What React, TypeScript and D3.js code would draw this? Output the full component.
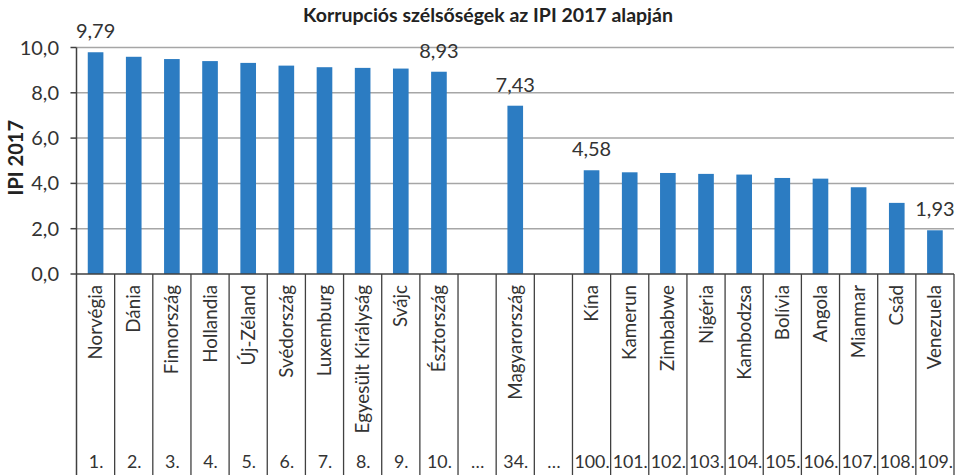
import React from "react";
import * as d3 from "d3";

const title = "Korrupciós szélsőségek az IPI 2017 alapján";
const yTitle = "IPI 2017";
const categories = [
  "Norvégia", "Dánia", "Finnország", "Hollandia", "Új-Zéland", "Svédország", "Luxemburg",
  "Egyesült Királyság", "Svájc", "Észtország", "", "Magyarország", "",
  "Kína", "Kamerun", "Zimbabwe", "Nigéria", "Kambodzsa", "Bolívia", "Angola", "Mianmar", "Csád", "Venezuela",
];
const ranks = [
  "1.", "2.", "3.", "4.", "5.", "6.", "7.", "8.", "9.", "10.", "…", "34.", "…",
  "100.", "101.", "102.", "103.", "104.", "105.", "106.", "107.", "108.", "109.",
];
const values: (number | null)[] = [
  9.79, 9.59, 9.49, 9.40, 9.32, 9.20, 9.13, 9.10, 9.07, 8.93, null, 7.43, null,
  4.58, 4.49, 4.46, 4.42, 4.39, 4.24, 4.21, 3.83, 3.14, 1.93,
];
const labeled = [0, 9, 11, 13, 22];
const yTicks = [0, 2, 4, 6, 8, 10];

const W = 960, H = 475;
const left = 76.5, right = 954, top = 47.5, bottom = 274;
const FONT = "Lato, 'Noto Sans', sans-serif";

export default function App() {
  const idx = categories.map((_, i) => i);
  const x = d3.scaleBand<number>().domain(idx).range([left, right]).padding(0);
  const y = d3.scaleLinear().domain([0, 10]).range([bottom, top]);
  const bw = x.bandwidth() * 0.41;
  const fmt = (v: number, d: number) => v.toFixed(d).replace(".", ",");
  return (
    <svg width={W} height={H} style={{ position: "fixed", left: 0, top: 0, background: "#fff" }} fontFamily={FONT}>
      <text x={488} y={22} textAnchor="middle" fontWeight="bold" fontSize={19.5} fill="#222">{title}</text>
      <text transform={`translate(23,${(top + bottom) / 2 - 3}) rotate(-90)`} textAnchor="middle" fontWeight="bold" fontSize={20} fill="#222">{yTitle}</text>
      {yTicks.map((t) => (
        <g key={t}>
          {t > 0 && <line x1={left} x2={right} y1={y(t)} y2={y(t)} stroke="#a6a6a6" strokeWidth={1.5} />}
          <line x1={left - 6} x2={left} y1={y(t)} y2={y(t)} stroke="#404040" strokeWidth={1.5} />
          <text x={59} y={y(t) + 7} textAnchor="end" fontSize={20} fill="#333">{fmt(t, 1)}</text>
        </g>
      ))}
      {values.map((v, i) =>
        v == null ? null : (
          <rect key={i} x={(x(i) as number) + (x.bandwidth() - bw) / 2} y={y(v)} width={bw} height={bottom - y(v)} fill="#2c7cc2" />
        )
      )}
      {labeled.map((i) => (
        <text key={i} x={(x(i) as number) + x.bandwidth() / 2} y={y(values[i] as number) - 14} textAnchor="middle" fontSize={20} fill="#333">
          {fmt(values[i] as number, 2)}
        </text>
      ))}
      <line x1={left} x2={left} y1={top} y2={H} stroke="#404040" strokeWidth={1.5} />
      <line x1={left} x2={right} y1={bottom} y2={bottom} stroke="#404040" strokeWidth={1.5} />
      {idx.map((i) => (
        <line key={i} x1={(x(i) as number) + x.bandwidth()} x2={(x(i) as number) + x.bandwidth()} y1={bottom} y2={H} stroke="#404040" strokeWidth={1.3} />
      ))}
      {categories.map((c, i) => (
        <text key={i} transform={`translate(${(x(i) as number) + x.bandwidth() / 2 + 6.5},285) rotate(-90)`} textAnchor="end" fontSize={18.8} fill="#333">{c}</text>
      ))}
      {ranks.map((r, i) => (
        <text key={i} x={(x(i) as number) + x.bandwidth() / 2 + 0.5} y={468} textAnchor="middle" fontSize={17.8} fill="#333">{r}</text>
      ))}
    </svg>
  );
}
